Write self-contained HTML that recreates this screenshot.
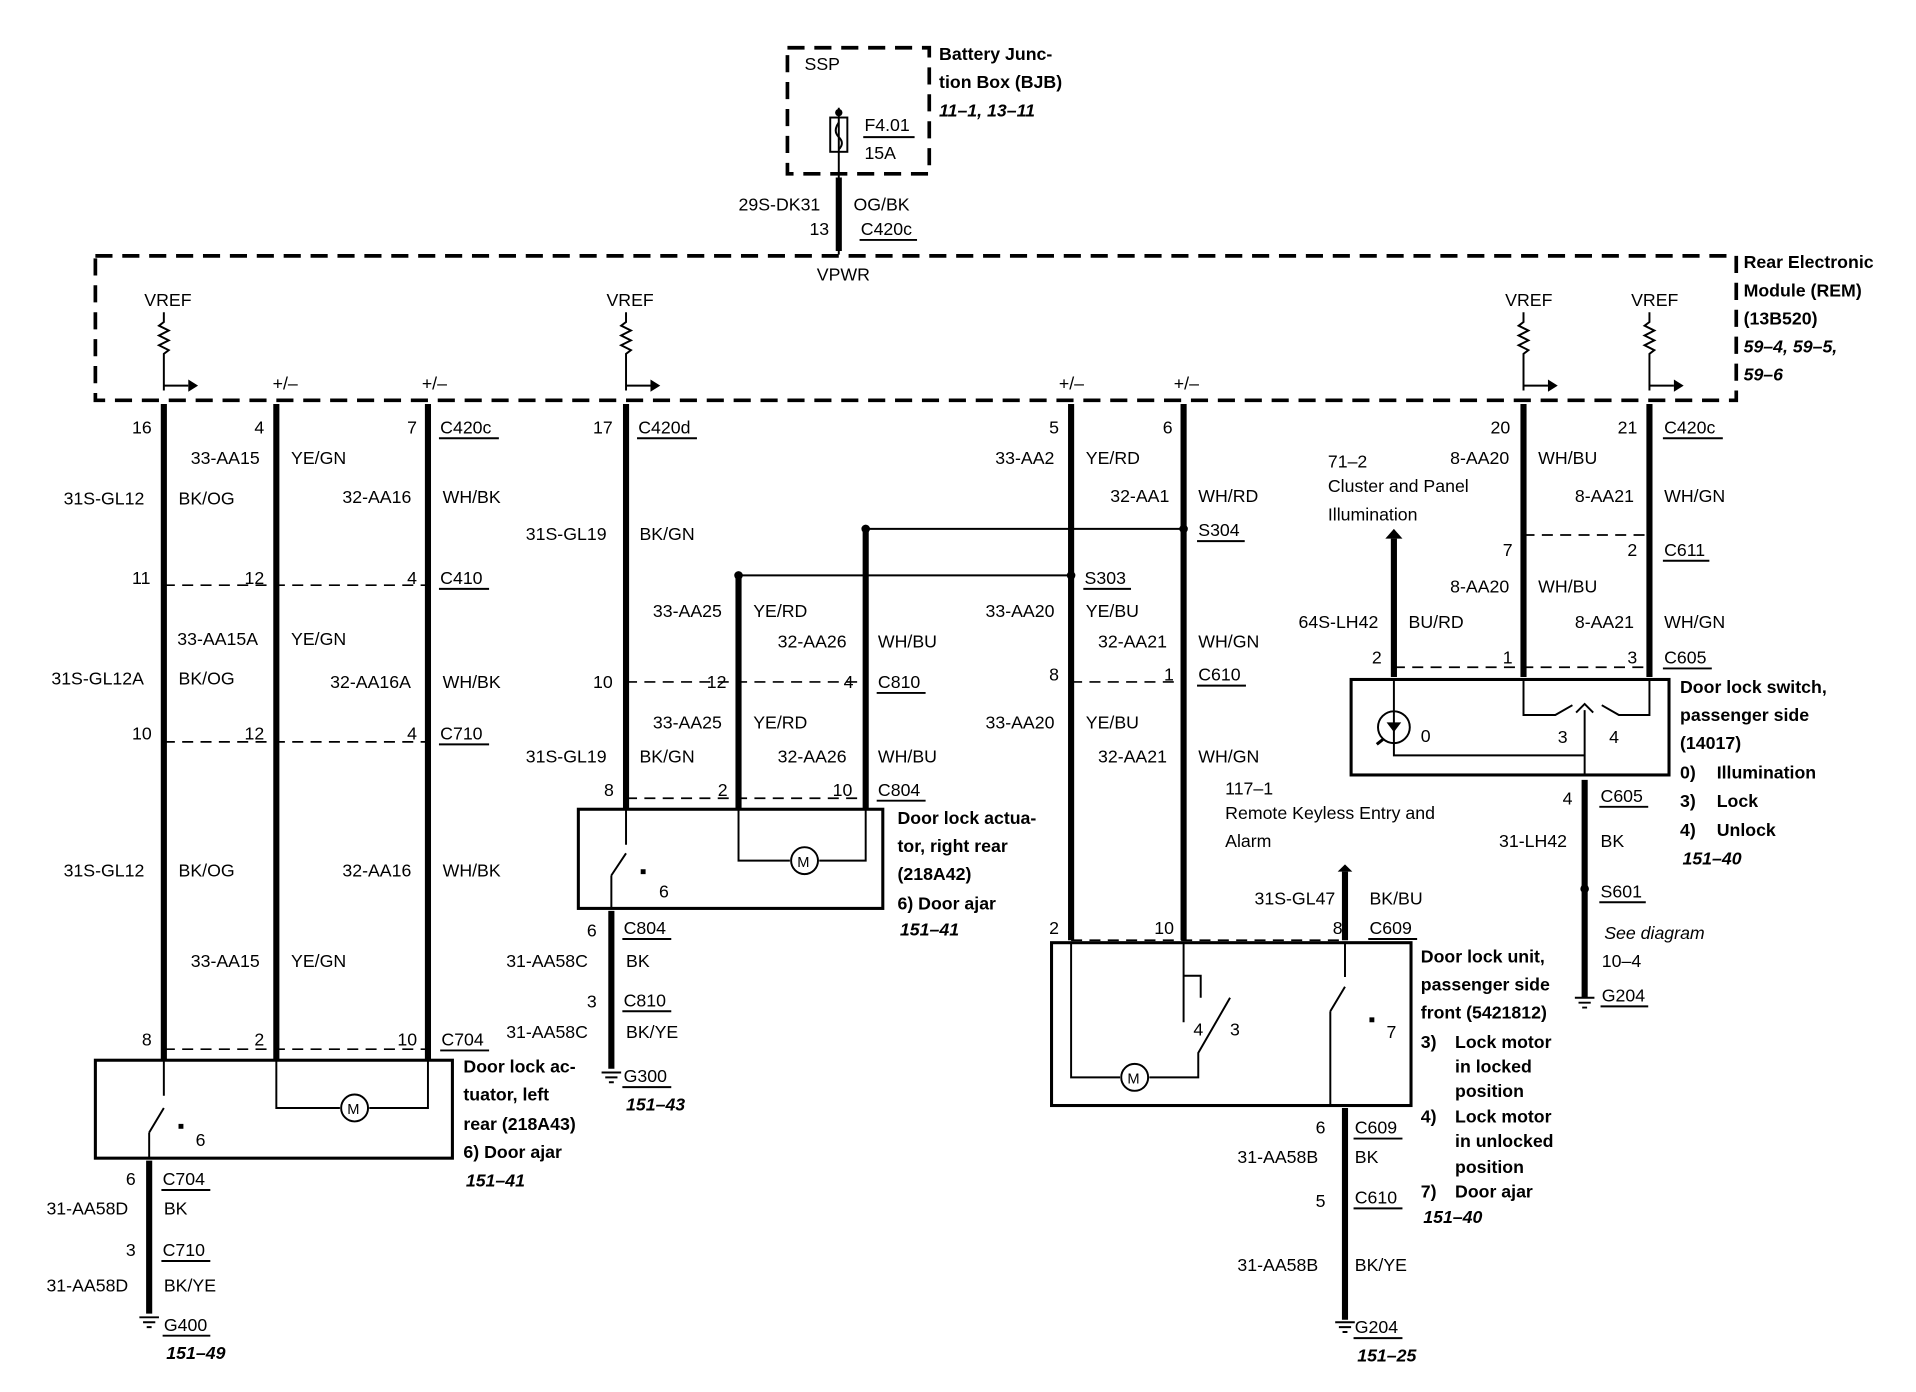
<!DOCTYPE html><html><head><meta charset="utf-8"><style>
html,body{margin:0;padding:0;background:#fff;}
svg{display:block}
text{font-family:"Liberation Sans",sans-serif;font-size:14.5px;fill:#000}
.b{font-weight:bold}
.i{font-weight:bold;font-style:italic}
.w{stroke:#000;stroke-width:5;fill:none}
.t{stroke:#000;stroke-width:1.6;fill:none}
.d{stroke:#000;stroke-width:1.4;fill:none;stroke-dasharray:9,6}
.D{stroke:#000;stroke-width:3;fill:none;stroke-dasharray:14,8}
.bx{stroke:#000;stroke-width:2.5;fill:none}
</style></head><body>
<svg width="1916" height="1392" viewBox="0 0 1567 1137" preserveAspectRatio="none">
<!-- BJB -->
<rect x="644" y="39" width="116" height="103" class="D"/>
<text x="658" y="57">SSP</text>
<text x="768" y="49" class="b">Battery Junc-</text>
<text x="768" y="72" class="b">tion Box (BJB)</text>
<text x="768" y="95" class="i">11–1, 13–11</text>
<line x1="686" y1="88" x2="686" y2="208" class="t"/>
<circle cx="686" cy="92" r="3"/>
<rect x="679" y="96" width="14" height="28" class="t" fill="#fff"/>
<path d="M686 100 q-5 7 0 12 q5 5 0 10" class="t"/>
<text x="707" y="107">F4.01</text><line x1="706" y1="112" x2="748" y2="112" class="t"/>
<text x="707" y="130">15A</text>
<line x1="686" y1="145" x2="686" y2="205" class="w"/>
<text x="604" y="172">29S-DK31</text><text x="698" y="172">OG/BK</text>
<text x="662" y="192">13</text><text x="704" y="192">C420c</text><line x1="703" y1="196" x2="750" y2="196" class="t"/>
<text x="668" y="229">VPWR</text>
<!-- REM -->
<rect x="78" y="209" width="1342" height="118" class="D"/>
<text x="1426" y="219" class="b">Rear Electronic</text>
<text x="1426" y="242" class="b">Module (REM)</text>
<text x="1426" y="265" class="b">(13B520)</text>
<text x="1426" y="288" class="i">59–4, 59–5,</text>
<text x="1426" y="311" class="i">59–6</text>
<!-- VREFs -->
<g>
<text x="118" y="250">VREF</text><text x="496" y="250">VREF</text><text x="1231" y="250">VREF</text><text x="1334" y="250">VREF</text>
<path d="M134 255 v8 l-4 3 l8 4 l-8 4 l8 4 l-8 4 l8 4 l-4 3 v30" class="t"/>
<path d="M512 255 v8 l-4 3 l8 4 l-8 4 l8 4 l-8 4 l8 4 l-4 3 v30" class="t"/>
<path d="M1246 255 v8 l-4 3 l8 4 l-8 4 l8 4 l-8 4 l8 4 l-4 3 v30" class="t"/>
<path d="M1349 255 v8 l-4 3 l8 4 l-8 4 l8 4 l-8 4 l8 4 l-4 3 v30" class="t"/>
<path d="M134 315 h20 M512 315 h20 M1246 315 h20 M1349 315 h20" class="t"/>
<path d="M154 310 l8 5 l-8 5z M532 310 l8 5 l-8 5z M1266 310 l8 5 l-8 5z M1369 310 l8 5 l-8 5z"/>
<text x="223" y="318">+/–</text><text x="345" y="318">+/–</text><text x="866" y="318">+/–</text><text x="960" y="318">+/–</text>
</g>
<!-- left group -->
<path d="M134 330 V865 M226 330 V865 M350 330 V865" class="w"/>
<path d="M134 478 H350 M134 606 H350 M134 857 H350" class="d"/>
<text x="108" y="354">16</text><text x="208" y="354">4</text><text x="333" y="354">7</text><text x="360" y="354">C420c</text><line x1="359" y1="358" x2="408" y2="358" class="t"/>
<text x="156" y="379">33-AA15</text><text x="238" y="379">YE/GN</text>
<text x="52" y="412">31S-GL12</text><text x="146" y="412">BK/OG</text><text x="280" y="411">32-AA16</text><text x="362" y="411">WH/BK</text>
<text x="108" y="477">11</text><text x="200" y="477">12</text><text x="333" y="477">4</text><text x="360" y="477">C410</text><line x1="359" y1="481" x2="400" y2="481" class="t"/>
<text x="145" y="527">33-AA15A</text><text x="238" y="527">YE/GN</text>
<text x="42" y="559">31S-GL12A</text><text x="146" y="559">BK/OG</text><text x="270" y="562">32-AA16A</text><text x="362" y="562">WH/BK</text>
<text x="108" y="604">10</text><text x="200" y="604">12</text><text x="333" y="604">4</text><text x="360" y="604">C710</text><line x1="359" y1="608" x2="400" y2="608" class="t"/>
<text x="52" y="716">31S-GL12</text><text x="146" y="716">BK/OG</text><text x="280" y="716">32-AA16</text><text x="362" y="716">WH/BK</text>
<text x="156" y="790">33-AA15</text><text x="238" y="790">YE/GN</text>
<text x="116" y="854">8</text><text x="208" y="854">2</text><text x="325" y="854">10</text><text x="361" y="854">C704</text><line x1="360" y1="858" x2="400" y2="858" class="t"/>
<rect x="78" y="866" width="292" height="80" class="bx"/>
<path d="M134 866 V895 M122 925 L134 905 M122 925 V946 M226 866 V905 H278 M302 905 H350 V866" class="t"/>
<circle cx="290" cy="905" r="11" class="t" fill="#fff"/><text x="284" y="910" style="font-size:12px">M</text>
<rect x="146" y="918" width="4" height="4"/><text x="160" y="936">6</text>
<text x="379" y="876" class="b">Door lock ac-</text><text x="379" y="899" class="b">tuator, left</text><text x="379" y="923" class="b">rear (218A43)</text>
<text x="379" y="946" class="b">6)   Door ajar</text><text x="381" y="969" class="i">151–41</text>
<path d="M122 948 V1073" class="w"/>
<text x="103" y="968">6</text><text x="133" y="968">C704</text><line x1="132" y1="972" x2="172" y2="972" class="t"/>
<text x="38" y="992">31-AA58D</text><text x="134" y="992">BK</text>
<text x="103" y="1026">3</text><text x="133" y="1026">C710</text><line x1="132" y1="1030" x2="172" y2="1030" class="t"/>
<text x="38" y="1055">31-AA58D</text><text x="134" y="1055">BK/YE</text>
<path d="M114 1076 h16 M117 1080 h10 M120 1084 h4" class="t"/>
<text x="134" y="1087">G400</text><line x1="133" y1="1091" x2="172" y2="1091" class="t"/><text x="136" y="1110" class="i">151–49</text>
<!-- middle group -->
<path d="M512 330 V660 M604 470 V660 M708 432 V660" class="w"/>
<circle cx="604" cy="470" r="3.5"/><circle cx="708" cy="432" r="3.5"/>
<path d="M604 470 H876 M708 432 H968" class="t"/>
<path d="M512 557 H708 M512 652 H708" class="d"/>
<text x="485" y="354">17</text><text x="522" y="354">C420d</text><line x1="521" y1="358" x2="570" y2="358" class="t"/>
<text x="430" y="441">31S-GL19</text><text x="523" y="441">BK/GN</text>
<text x="534" y="504">33-AA25</text><text x="616" y="504">YE/RD</text>
<text x="636" y="529">32-AA26</text><text x="718" y="529">WH/BU</text>
<text x="485" y="562">10</text><text x="578" y="562">12</text><text x="690" y="562">4</text><text x="718" y="562">C810</text><line x1="717" y1="566" x2="757" y2="566" class="t"/>
<text x="534" y="595">33-AA25</text><text x="616" y="595">YE/RD</text>
<text x="430" y="623">31S-GL19</text><text x="523" y="623">BK/GN</text><text x="636" y="623">32-AA26</text><text x="718" y="623">WH/BU</text>
<text x="494" y="650">8</text><text x="587" y="650">2</text><text x="681" y="650">10</text><text x="718" y="650">C804</text><line x1="717" y1="654" x2="757" y2="654" class="t"/>
<rect x="473" y="661" width="249" height="81" class="bx"/>
<path d="M512 661 V690 M500 715 L512 697 M500 715 V742 M604 661 V703 H646 M670 703 H708 V661" class="t"/>
<circle cx="658" cy="703" r="11" class="t" fill="#fff"/><text x="652" y="708" style="font-size:12px">M</text>
<rect x="524" y="710" width="4" height="4"/><text x="539" y="733">6</text>
<text x="734" y="673" class="b">Door lock actua-</text><text x="734" y="696" class="b">tor, right rear</text><text x="734" y="719" class="b">(218A42)</text>
<text x="734" y="743" class="b">6)   Door ajar</text><text x="736" y="764" class="i">151–41</text>
<path d="M500 744 V873" class="w"/>
<text x="480" y="765">6</text><text x="510" y="763">C804</text><line x1="509" y1="767" x2="549" y2="767" class="t"/>
<text x="414" y="790">31-AA58C</text><text x="512" y="790">BK</text>
<text x="480" y="823">3</text><text x="510" y="822">C810</text><line x1="509" y1="826" x2="549" y2="826" class="t"/>
<text x="414" y="848">31-AA58C</text><text x="512" y="848">BK/YE</text>
<path d="M492 876 h16 M495 880 h10 M498 884 h4" class="t"/>
<text x="510" y="884">G300</text><line x1="509" y1="888" x2="549" y2="888" class="t"/><text x="512" y="907" class="i">151–43</text>
<!-- right group -->
<path d="M876 330 V768 M968 330 V768" class="w"/>
<circle cx="876" cy="470" r="3.5"/><circle cx="968" cy="432" r="3.5"/>
<path d="M876 557 H968" class="d"/>
<text x="858" y="354">5</text><text x="951" y="354">6</text>
<text x="814" y="379">33-AA2</text><text x="888" y="379">YE/RD</text>
<text x="908" y="410">32-AA1</text><text x="980" y="410">WH/RD</text>
<text x="980" y="438">S304</text><line x1="979" y1="442" x2="1018" y2="442" class="t"/>
<text x="887" y="477">S303</text><line x1="886" y1="481" x2="925" y2="481" class="t"/>
<text x="806" y="504">33-AA20</text><text x="888" y="504">YE/BU</text>
<text x="898" y="529">32-AA21</text><text x="980" y="529">WH/GN</text>
<text x="858" y="556">8</text><text x="952" y="556">1</text><text x="980" y="556">C610</text><line x1="979" y1="560" x2="1019" y2="560" class="t"/>
<text x="806" y="595">33-AA20</text><text x="888" y="595">YE/BU</text>
<text x="898" y="623">32-AA21</text><text x="980" y="623">WH/GN</text>
<text x="1002" y="649">117–1</text><text x="1002" y="669">Remote Keyless Entry and</text><text x="1002" y="692">Alarm</text>
<path d="M1100 712 V768" class="w"/><path d="M1094 712 h12 l-6 -6z"/>
<text x="1026" y="739">31S-GL47</text><text x="1120" y="739">BK/BU</text>
<text x="1090" y="763">8</text><text x="1120" y="763">C609</text><line x1="1119" y1="767" x2="1159" y2="767" class="t"/>
<path d="M876 768 H1100" class="d"/>
<text x="858" y="763">2</text><text x="944" y="763">10</text>
<rect x="860" y="770" width="294" height="133" class="bx"/>
<path d="M876 770 V880 H916 M940 880 H980 V860 L1006 815 M968 770 V797 H982 V815 M968 797 V835 M980 860 M1100 770 V798 M1088 826 L1100 806 M1088 826 V903" class="t"/>
<circle cx="928" cy="880" r="11" class="t" fill="#fff"/><text x="922" y="885" style="font-size:12px">M</text>
<text x="976" y="846">4</text><text x="1006" y="846">3</text><rect x="1120" y="831" width="4" height="4"/><text x="1134" y="848">7</text>
<text x="1162" y="786" class="b">Door lock unit,</text><text x="1162" y="809" class="b">passenger side</text><text x="1162" y="832" class="b">front (5421812)</text>
<text x="1162" y="856" class="b">3)</text><text x="1190" y="856" class="b">Lock motor</text><text x="1190" y="876" class="b">in locked</text><text x="1190" y="896" class="b">position</text>
<text x="1162" y="917" class="b">4)</text><text x="1190" y="917" class="b">Lock motor</text><text x="1190" y="937" class="b">in unlocked</text><text x="1190" y="958" class="b">position</text>
<text x="1162" y="978" class="b">7)</text><text x="1190" y="978" class="b">Door ajar</text><text x="1164" y="999" class="i">151–40</text>
<path d="M1100 905 V1078" class="w"/>
<text x="1076" y="926">6</text><text x="1108" y="926">C609</text><line x1="1107" y1="930" x2="1147" y2="930" class="t"/>
<text x="1012" y="950">31-AA58B</text><text x="1108" y="950">BK</text>
<text x="1076" y="986">5</text><text x="1108" y="983">C610</text><line x1="1107" y1="987" x2="1147" y2="987" class="t"/>
<text x="1012" y="1038">31-AA58B</text><text x="1108" y="1038">BK/YE</text>
<path d="M1092 1080 h16 M1095 1084 h10 M1098 1088 h4" class="t"/>
<text x="1108" y="1089">G204</text><line x1="1107" y1="1093" x2="1147" y2="1093" class="t"/><text x="1110" y="1112" class="i">151–25</text>
<!-- far right -->
<path d="M1246 330 V553 M1349 330 V553 M1140 440 V553" class="w"/>
<path d="M1133 440 h14 l-7 -8z"/>
<path d="M1246 437 H1349 M1140 545 H1349" class="d"/>
<text x="1219" y="354">20</text><text x="1323" y="354">21</text><text x="1361" y="354">C420c</text><line x1="1360" y1="358" x2="1409" y2="358" class="t"/>
<text x="1186" y="379">8-AA20</text><text x="1258" y="379">WH/BU</text>
<text x="1086" y="382">71–2</text><text x="1086" y="402">Cluster and Panel</text><text x="1086" y="425">Illumination</text>
<text x="1288" y="410">8-AA21</text><text x="1361" y="410">WH/GN</text>
<text x="1229" y="454">7</text><text x="1331" y="454">2</text><text x="1361" y="454">C611</text><line x1="1360" y1="458" x2="1398" y2="458" class="t"/>
<text x="1186" y="484">8-AA20</text><text x="1258" y="484">WH/BU</text>
<text x="1062" y="513">64S-LH42</text><text x="1152" y="513">BU/RD</text><text x="1288" y="513">8-AA21</text><text x="1361" y="513">WH/GN</text>
<text x="1122" y="542">2</text><text x="1229" y="542">1</text><text x="1331" y="542">3</text><text x="1361" y="542">C605</text><line x1="1360" y1="546" x2="1400" y2="546" class="t"/>
<rect x="1105" y="555" width="260" height="78" class="bx"/>
<path d="M1140 555 V617 H1296 M1246 555 V584 H1272 L1286 576 M1349 555 V584 H1324 L1310 576 M1296 633 V580 M1289 582 l7 -7 l7 7" class="t"/>
<circle cx="1140" cy="594" r="13" class="t"/><path d="M1134 590 h12 l-6 8z M1134 599 h12"/>
<path d="M1126 608 l5 -4" class="t" style="stroke-width:2.5"/>
<text x="1162" y="606">0</text><text x="1274" y="607">3</text><text x="1316" y="607">4</text>
<path d="M1296 637 V815" class="w"/><circle cx="1296" cy="726" r="3.5"/>
<text x="1278" y="657">4</text><text x="1309" y="655">C605</text><line x1="1308" y1="659" x2="1348" y2="659" class="t"/>
<text x="1226" y="692">31-LH42</text><text x="1309" y="692">BK</text>
<text x="1309" y="733">S601</text><line x1="1308" y1="737" x2="1346" y2="737" class="t"/>
<text x="1312" y="767" class="i" style="font-style:italic;font-weight:normal">See diagram</text><text x="1310" y="790">10–4</text>
<path d="M1288 815 h16 M1291 819 h10 M1294 823 h4" class="t"/>
<text x="1310" y="818">G204</text><line x1="1309" y1="822" x2="1348" y2="822" class="t"/>
<text x="1374" y="566" class="b">Door lock switch,</text><text x="1374" y="589" class="b">passenger side</text><text x="1374" y="612" class="b">(14017)</text>
<text x="1374" y="636" class="b">0)</text><text x="1404" y="636" class="b">Illumination</text>
<text x="1374" y="659" class="b">3)</text><text x="1404" y="659" class="b">Lock</text>
<text x="1374" y="683" class="b">4)</text><text x="1404" y="683" class="b">Unlock</text>
<text x="1376" y="706" class="i">151–40</text>
</svg>
</body></html>
